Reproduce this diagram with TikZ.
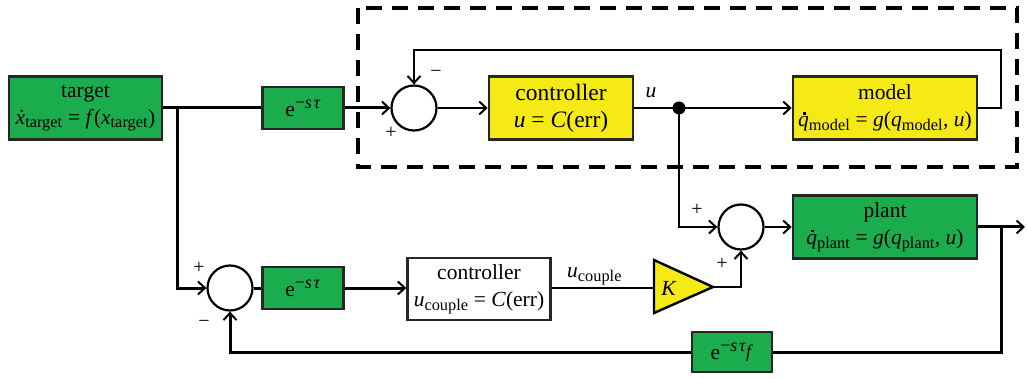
\documentclass[tikz,border=0pt]{standalone}
\usepackage{fontspec}
\setmainfont{Liberation Serif}
\renewcommand\defaultscriptratio{.76}
\usetikzlibrary{arrows.meta}
\definecolor{boxgreen}{RGB}{26,172,77}
\definecolor{boxyellow}{RGB}{246,234,22}
\tikzset{
 blk/.style={draw=black!85, line width=2.6pt, inner sep=0pt, align=center, font=\fontsize{21.5}{27}\selectfont},
 gblk/.style={blk, fill=boxgreen},
 yblk/.style={blk, fill=boxyellow},
 wblk/.style={blk, fill=white, line width=2.4pt},
 sumc/.style={circle, draw, line width=2.2pt, minimum size=45pt, inner sep=0pt, fill=white},
 arr/.style={-{Straight Barb[length=7pt,width=13pt,line width=2pt]}},
 thk/.style={line width=3pt},
 thn/.style={line width=2pt},
 sgn/.style={font=\fontsize{20}{20}\selectfont, inner sep=0pt},
 lbl/.style={font=\fontsize{21.5}{24}\selectfont, inner sep=0pt},
}
\newcommand{\dotx}{\textit{\.{x}}}
\newcommand{\dotq}{\rlap{\hspace{0.23em}\raisebox{0.56em}{\rule{0.11em}{0.11em}}}\textit{q}}
\newcommand{\edel}[1]{e\raisebox{0.38em}{\fontsize{18}{18}\selectfont −\textit{s}\kern0.1em\textit{τ}#1}}
\begin{document}
\begin{tikzpicture}[x=1pt,y=-1pt]
\useasboundingbox (0,0) rectangle (1027,379);
% dashed frame
\draw[line width=4pt, dash pattern=on 16pt off 10pt] (358,8) rectangle (1017,167);
% blocks
\node[gblk, minimum width=153pt, minimum height=63pt] (target) at (85.5,108)
  {target\\\dotx\textsubscript{target} = \textit{f}(\textit{x}\textsubscript{target})};
\node[gblk, minimum width=81pt, minimum height=42pt] (d1) at (303,108) {\edel{}};
\node[sumc] (s1) at (414,108) {};
\node[yblk, minimum width=144pt, minimum height=63pt, font=\fontsize{23.5}{27}\selectfont] (c1) at (561,108)
  {controller\\\textit{u} = \textit{C}(err)};
\node[circle, fill, minimum size=13pt, inner sep=0pt] (dot) at (679,108) {};
\node[yblk, minimum width=184pt, minimum height=63pt] (model) at (885,108)
  {model\\\dotq\textsubscript{model} = \textit{g}(\textit{q}\textsubscript{model}, \textit{u})};
\node[sumc] (s3) at (741,227) {};
\node[gblk, minimum width=184pt, minimum height=63pt] (plant) at (885,227)
  {plant\\\dotq\textsubscript{plant} = \textit{g}(\textit{q}\textsubscript{plant}, \textit{u})};
\node[sumc] (s2) at (230,288) {};
\node[gblk, minimum width=81pt, minimum height=42pt] (d2) at (303,288) {\edel{}};
\node[wblk, minimum width=143pt, minimum height=62pt] (c2) at (479,289)
  {controller\\\textit{u}\textsubscript{couple} = \textit{C}(err)};
\node[gblk, minimum width=80pt, minimum height=40pt] (d3) at (732,352)
  {\edel{\raisebox{-0.3em}{\textit{f}}}};
% gain triangle
\draw[fill=boxyellow, line width=2.4pt, line join=miter] (654,260) -- (713,287) -- (654,313) -- cycle;
\coordinate (Kin) at (654,288);
\coordinate (Ktip) at (713,287);
\node[lbl] (K) at (669,288) {\textit{K}};
% helper points
\coordinate (br) at (177,108);
\coordinate (fbtop) at (1001,50);
\coordinate (obr) at (1001,227);
\coordinate (out) at (1025,227);
% connectors
\draw[thk] (target.east) -- (d1.west);
\draw[thk, arr] (br) |- (s2.west);
\draw[thk, arr] (d1.east) -- (s1.west);
\draw[thn, arr] (s1.east) -- (c1.west);
\draw[thn, arr] (c1.east) -- (model.west);
\draw[thn, arr] (model.east) -| (fbtop) -| (s1.north);
\draw[thn, arr] (dot.center) |- (s3.west);
\draw[thn, arr] (s3.east) -- (plant.west);
\draw[thk, arr] (plant.east) -- (out);
\draw[thk] (obr) |- (d3.east);
\draw[thk, arr] (d3.west) -| (s2.south);
\draw[thk] (s2.east) -- (d2.west);
\draw[thk, arr] (d2.east) -- (d2.east -| c2.west);
\draw[thn] (c2.east |- Kin) -- (Kin);
\draw[thn, arr] (Ktip) -| (s3.south);
% labels
\node[lbl] (ulab) at (651,93) {\textit{u}};
\node[lbl, anchor=base west] (uclab) at (567,277) {\textit{u}\textsubscript{couple}};
\node[sgn] (m1) at (436,74) {−};
\node[sgn] (p1) at (391,133) {+};
\node[sgn] (p3a) at (697,210) {+};
\node[sgn] (p3b) at (722,264) {+};
\node[sgn] (p2) at (199,268) {+};
\node[sgn] (m2) at (204,324) {−};
\end{tikzpicture}
\end{document}
